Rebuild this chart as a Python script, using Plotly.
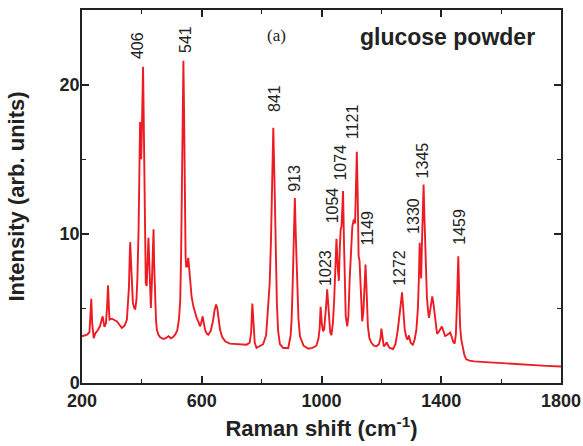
import plotly.graph_objects as go

# Raman spectrum
raman_shift = [200, 210, 217, 225, 228, 231, 234, 239, 245, 250, 260, 265, 269, 275, 280, 284, 287, 290, 292,
               300, 310, 317, 325, 333, 340, 344, 350, 355, 357, 359, 361, 364, 367, 370, 375, 378, 382, 385,
               389, 392, 394, 396, 397.7, 400, 402, 404, 406, 408, 410, 413, 416, 419, 422, 425, 428, 430, 433,
               436, 439, 441, 444, 447, 450, 455, 461, 472, 480, 489, 497, 505, 511, 518, 524, 528, 531, 534,
               536, 538.7, 541, 543, 546, 548, 551, 555, 558, 561, 566, 572, 578, 583, 589, 594, 598, 603, 607,
               612, 618, 622, 630, 637, 643, 648, 652, 656, 661, 668, 678, 694, 720, 750, 760, 765, 769, 773,
               777, 783, 795, 805, 815, 822, 827, 831, 835, 839, 843, 846, 848, 851, 855, 861, 872, 889, 897,
               900, 903, 906, 908, 911, 914, 917, 919, 923, 928, 940, 956, 970, 983, 990, 994, 997, 1001, 1005,
               1009, 1012, 1016, 1019, 1022, 1025, 1029, 1033, 1038, 1042, 1046, 1050, 1054, 1058, 1061, 1064,
               1067, 1069, 1072, 1075, 1078, 1081, 1086, 1090, 1094, 1099, 1103, 1108, 1112, 1115, 1118, 1121,
               1124, 1127, 1130, 1133, 1136, 1140, 1144, 1147, 1150, 1155, 1160, 1167, 1175, 1183, 1192, 1197,
               1200, 1204, 1208, 1213, 1218, 1223, 1228, 1239, 1247, 1255, 1262, 1266, 1269, 1273, 1278, 1283,
               1287, 1292, 1298, 1305, 1311, 1317, 1322, 1325, 1328, 1330, 1333, 1335, 1338, 1341, 1344, 1348,
               1352, 1356, 1359, 1364, 1370, 1374, 1378, 1382, 1386, 1391, 1396, 1402, 1407, 1413, 1418, 1424,
               1430, 1435, 1440, 1445, 1449, 1452, 1455, 1457, 1460, 1463, 1467, 1472, 1477, 1483, 1494, 1510,
               1528, 1560, 1605, 1639, 1700, 1750, 1800]
intensity = [3.13, 3.18, 3.24, 3.4, 4.2, 5.64, 4.0, 3.0, 3.35, 3.46, 3.8, 4.1, 4.47, 3.76, 4.0, 5.2, 6.55, 5.0, 4.25,
             4.31, 4.2, 4.13, 3.9, 3.69, 3.8, 3.91, 4.25, 5.5, 6.5, 8.2, 9.44, 8.0, 6.2, 5.37, 5.0, 4.97, 5.6, 7.0,
             10.3, 15.0, 17.5, 16.0, 15.0, 17.0, 19.5, 21.2, 18.0, 14.0, 9.5, 6.7, 6.5, 8.0, 9.73, 8.0, 5.8, 5.03, 6.5,
             9.0, 10.3, 8.0, 5.5, 4.3, 3.58, 3.25, 3.06, 2.95, 3.0, 3.13, 3.0, 3.1, 3.24, 3.5, 4.3, 5.5, 8.5, 14.0,
             18.5, 21.6, 18.0, 12.0, 8.5, 7.8, 7.8, 8.39, 7.5, 6.7, 5.8, 5.14, 4.7, 4.36, 4.1, 3.8, 4.0, 4.47, 4.0,
             3.5, 3.28, 3.24, 3.5, 4.1, 4.9, 5.26, 5.0, 4.2, 3.58, 3.1, 2.79, 2.64, 2.6, 2.57, 2.7, 3.4, 5.32, 3.5,
             2.7, 2.35, 2.5, 2.6, 3.2, 4.9, 6.7, 9.4, 14.5, 17.1, 13.5, 9.5, 7.15, 5.3, 3.5, 2.6, 2.35, 2.35, 3.2,
             4.2, 6.06, 9.0, 11.5, 12.4, 10.0, 7.5, 6.04, 4.3, 3.13, 2.5, 2.3, 2.35, 2.5, 3.0, 3.7, 5.1, 4.0, 3.46,
             3.6, 4.2, 5.3, 6.28, 5.2, 4.0, 3.4, 3.2, 4.0, 5.4, 7.4, 9.66, 7.8, 6.85, 9.0, 10.3, 10.5, 11.5, 12.86,
             9.5, 6.0, 4.47, 3.8, 4.5, 6.93, 8.8, 10.5, 10.96, 10.7, 13.0, 15.5, 12.5, 8.5, 8.2, 6.5, 4.9, 4.13, 4.8,
             6.8, 7.94, 6.5, 3.8, 3.0, 2.68, 2.5, 2.46, 2.6, 3.0, 3.64, 3.0, 2.46, 2.55, 2.73, 2.5, 2.35, 2.28, 2.6,
             3.58, 4.6, 5.5, 6.08, 5.2, 3.58, 3.1, 2.9, 3.19, 2.68, 2.57, 2.9, 3.58, 5.0, 6.8, 9.4, 8.0, 7.0, 9.0,
             11.5, 13.3, 11.0, 7.5, 5.8, 4.8, 4.36, 5.0, 5.8, 5.3, 4.6, 3.9, 3.3, 3.4, 3.6, 3.78, 3.5, 3.15, 3.2,
             3.3, 3.38, 3.1, 2.75, 2.65, 3.3, 5.0, 7.5, 8.5, 6.0, 3.8, 2.9, 2.3, 1.9, 1.6, 1.5, 1.45, 1.41, 1.38,
             1.33, 1.28, 1.2, 1.15, 1.11]

# Peak labels
peak_labels = ["406", "541", "841", "913", "1023", "1054", "1074", "1121", "1149", "1272", "1330", "1345", "1459"]

# Label placement (layout, in axis units)
label_x = [388, 548, 841, 909, 1011, 1038, 1063, 1106, 1154, 1258, 1309, 1338, 1458]
label_y = [22.6, 23.0, 19.1, 13.7, 7.7, 11.9, 14.8, 17.5, 10.4, 7.7, 11.2, 14.9, 10.45]

x_ticks = [200, 600, 1000, 1400, 1800]
y_ticks = [0, 10, 20]

RED = "rgb(237,28,36)"
SANS = "Liberation Sans, Arial, sans-serif"
INK = "#222"

fig = go.Figure()
fig.add_trace(go.Scatter(x=raman_shift, y=intensity, mode="lines",
                         line=dict(color=RED, width=1.9), showlegend=False,
                         hoverinfo="skip"))

for t, lx, ly in zip(peak_labels, label_x, label_y):
    fig.add_annotation(x=lx, y=ly, xref="x", yref="y", text=t, textangle=-90,
                       showarrow=False, xanchor="center", yanchor="middle",
                       font=dict(family=SANS, size=16, color=INK))

fig.add_annotation(x=848, y=23.3, xref="x", yref="y", text="(a)", showarrow=False,
                   xanchor="center", yanchor="middle",
                   font=dict(family="Liberation Serif, Times New Roman, serif", size=17, color=INK))
fig.add_annotation(x=1422, y=23.2, xref="x", yref="y", text="<b>glucose powder</b>",
                   showarrow=False, xanchor="center", yanchor="middle",
                   font=dict(family=SANS, size=23, color=INK))

axis_common = dict(showgrid=False, zeroline=False, showline=True, linecolor=INK, linewidth=1.5,
                   mirror="ticks", ticks="inside", ticklen=7, tickwidth=1.5, tickcolor=INK,
                   automargin=False,
                   tickfont=dict(family=SANS, size=18, color=INK, weight="bold"))

fig.update_xaxes(range=[200, 1800], tickvals=x_ticks, ticktext=[str(v) for v in x_ticks],
                 ticklabelstandoff=1,
                 minor=dict(dtick=200, tick0=200, ticks="inside", ticklen=4, tickwidth=1.2, tickcolor=INK),
                 title=dict(text="<b>Raman shift (cm<sup>-1</sup>)</b>", standoff=10,
                            font=dict(family=SANS, size=22, color=INK)),
                 **axis_common)
fig.update_yaxes(range=[0, 25], tickvals=y_ticks, ticktext=[str(v) for v in y_ticks],
                 ticklabelstandoff=-3,
                 minor=dict(dtick=5, tick0=0, ticks="inside", ticklen=4, tickwidth=1.2, tickcolor=INK),
                 title=dict(text="<b>Intensity (arb. units)</b>", standoff=29,
                            font=dict(family=SANS, size=22, color=INK)),
                 **axis_common)

fig.update_layout(width=583, height=446, margin=dict(l=82, r=22, t=10, b=63),
                  paper_bgcolor="white", plot_bgcolor="white")

fig.write_html("out.html", config={"displayModeBar": False},
               post_script="document.body.style.margin='0';")
